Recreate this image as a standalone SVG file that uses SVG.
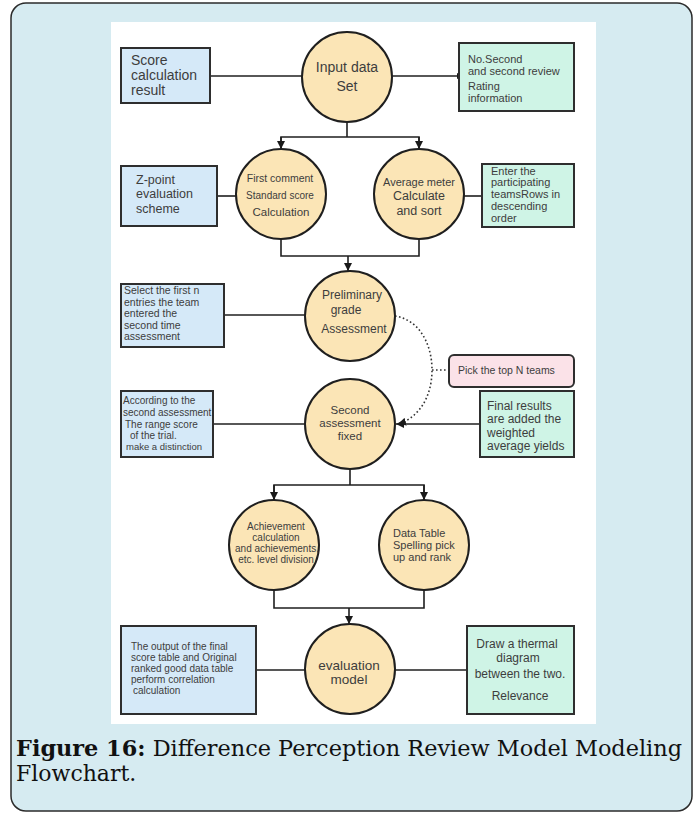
<svg xmlns="http://www.w3.org/2000/svg" width="698" height="813" viewBox="0 0 698 813">
  <defs>
    <marker id="arrow" viewBox="0 0 10 10" refX="10" refY="5" markerWidth="8" markerHeight="8" markerUnits="userSpaceOnUse" orient="auto">
      <path d="M0,0 L10,5 L0,10 z" fill="#1a1a1a"/>
    </marker>
    <marker id="arrow-sm" viewBox="0 0 10 10" refX="10" refY="5" markerWidth="6" markerHeight="6" markerUnits="userSpaceOnUse" orient="auto">
      <path d="M0,0 L10,5 L0,10 z" fill="#1a1a1a"/>
    </marker>
  </defs>
  <style>
    .frame { fill: #d6ebf1; stroke: #2b2b2b; stroke-width: 1.5; }
    .panel { fill: #ffffff; }
    .circle { fill: #fbe5b6; stroke: #1f1f1f; stroke-width: 2; }
    .blue { fill: #d5e9f8; stroke: #2e2e2e; stroke-width: 2; }
    .green { fill: #cff4e6; stroke: #2e2e2e; stroke-width: 2; }
    .pink { fill: #fbe2e8; stroke: #2e2e2e; stroke-width: 2; }
    .link { fill: none; stroke: #1f1f1f; stroke-width: 1.6; }
    .dotted { fill: none; stroke: #333; stroke-width: 1.6; stroke-dasharray: 1.6 2.4; }
    text { font-family: "Liberation Sans", Arial, sans-serif; fill: #3d3d3d; }
    .c { text-anchor: middle; }
    .caption { font-family: "DejaVu Serif", "Liberation Serif", serif; font-size: 22px; fill: #111; }
  </style>

  <!-- outer frame and white drawing panel -->
  <rect class="frame" x="11" y="3" width="681" height="808" rx="15" ry="15"/>
  <rect class="panel" x="111" y="22" width="485" height="702"/>

  <!-- connectors -->
  <g id="connectors">
    <line class="link" x1="210" y1="76" x2="302" y2="76"/>
    <line class="link" x1="392" y1="76" x2="463" y2="76" marker-end="url(#arrow-sm)"/>
    <polyline class="link" points="347,122 347,137"/>
    <polyline class="link" points="281,149 281,137 419,137 419,149"/>
    <line class="link" x1="281" y1="137" x2="281" y2="149" marker-end="url(#arrow)"/>
    <line class="link" x1="419" y1="137" x2="419" y2="149" marker-end="url(#arrow)"/>
    <line class="link" x1="217" y1="196" x2="236" y2="196"/>
    <line class="link" x1="464" y1="196" x2="482" y2="196"/>
    <polyline class="link" points="281,239 281,256 419,256 419,239"/>
    <line class="link" x1="348" y1="256" x2="348" y2="271" marker-end="url(#arrow)"/>
    <line class="link" x1="224" y1="315" x2="305" y2="315"/>
    <path class="dotted" d="M395,316 C420,320 432,345 432,370 C432,398 418,418 398,424" marker-end="url(#arrow)"/>
    <line class="dotted" x1="432" y1="370" x2="449" y2="370"/>
    <line class="link" x1="213" y1="424" x2="305" y2="424"/>
    <line class="link" x1="480" y1="424" x2="396" y2="424" marker-end="url(#arrow)"/>
    <polyline class="link" points="350,469 350,485"/>
    <polyline class="link" points="274,500 274,485 424,485 424,500"/>
    <line class="link" x1="274" y1="485" x2="274" y2="500" marker-end="url(#arrow)"/>
    <line class="link" x1="424" y1="485" x2="424" y2="500" marker-end="url(#arrow)"/>
    <polyline class="link" points="274,590 274,608 424,608 424,590"/>
    <line class="link" x1="349" y1="608" x2="349" y2="624" marker-end="url(#arrow)"/>
    <line class="link" x1="256" y1="670" x2="305" y2="670"/>
    <line class="link" x1="395" y1="670" x2="467" y2="670"/>
  </g>

  <g id="score-result">
    <rect class="blue" x="121" y="48" width="89" height="55"/>
    <text font-size="14"><tspan x="131" y="65">Score</tspan><tspan x="131" y="80">calculation</tspan><tspan x="131" y="95">result</tspan></text>
  </g>

  <g id="input-data">
    <circle class="circle" cx="347" cy="77" r="45"/>
    <text class="c" font-size="14"><tspan x="347" y="72">Input data</tspan><tspan x="347" y="91">Set</tspan></text>
  </g>

  <g id="rating-info">
    <rect class="green" x="459" y="43" width="115" height="68"/>
    <text font-size="11"><tspan x="468" y="63">No.Second</tspan><tspan x="468" y="75">and second review</tspan><tspan x="468" y="90">Rating</tspan><tspan x="468" y="102">information</tspan></text>
  </g>

  <g id="z-point">
    <rect class="blue" x="121" y="166" width="96" height="60"/>
    <text font-size="12.5"><tspan x="136" y="184">Z-point</tspan><tspan x="136" y="198">evaluation</tspan><tspan x="136" y="213">scheme</tspan></text>
  </g>

  <g id="standard-score">
    <circle class="circle" cx="281" cy="194" r="45"/>
    <text class="c"><tspan x="280" y="182" font-size="10.5">First comment</tspan><tspan x="280" y="199" font-size="10">Standard score</tspan><tspan x="281" y="216" font-size="11.5">Calculation</tspan></text>
  </g>

  <g id="average-meter">
    <circle class="circle" cx="419" cy="194" r="45"/>
    <text class="c"><tspan x="419" y="186" font-size="11">Average meter</tspan><tspan x="419" y="200" font-size="12.5">Calculate</tspan><tspan x="419" y="215" font-size="12.5">and sort</tspan></text>
  </g>

  <g id="descending-order">
    <rect class="green" x="482" y="164" width="92" height="63"/>
    <text font-size="11"><tspan x="491" y="175">Enter the</tspan><tspan x="491" y="186">participating</tspan><tspan x="491" y="198">teamsRows in</tspan><tspan x="491" y="210">descending</tspan><tspan x="491" y="222">order</tspan></text>
  </g>

  <g id="select-first-n">
    <rect class="blue" x="121" y="284" width="103" height="63"/>
    <text font-size="10.5"><tspan x="124" y="294">Select the first n</tspan><tspan x="124" y="306">entries the team</tspan><tspan x="124" y="317">entered the</tspan><tspan x="124" y="329">second time</tspan><tspan x="124" y="340">assessment</tspan></text>
  </g>

  <g id="preliminary">
    <circle class="circle" cx="350" cy="316" r="45"/>
    <text class="c" font-size="12"><tspan x="352" y="299">Preliminary</tspan><tspan x="346" y="314">grade</tspan><tspan x="354" y="333">Assessment</tspan></text>
  </g>

  <g id="top-n">
    <rect class="pink" x="449" y="355" width="125" height="32" rx="5" ry="5"/>
    <text x="458" y="374" font-size="10.5">Pick the top N teams</text>
  </g>

  <g id="range-score">
    <rect class="blue" x="121" y="391" width="92" height="66"/>
    <text font-size="10"><tspan x="123" y="404">According to the</tspan><tspan x="123" y="416">second assessment</tspan><tspan x="125" y="428">The range score</tspan><tspan x="130" y="439">of the trial.</tspan><tspan x="126" y="450" font-size="9.5">make a distinction</tspan></text>
  </g>

  <g id="second-assessment">
    <circle class="circle" cx="350" cy="424" r="45"/>
    <text class="c" font-size="11.5"><tspan x="350" y="414">Second</tspan><tspan x="350" y="427">assessment</tspan><tspan x="350" y="440">fixed</tspan></text>
  </g>

  <g id="final-results">
    <rect class="green" x="480" y="391" width="94" height="66"/>
    <text font-size="12"><tspan x="487" y="410">Final results</tspan><tspan x="487" y="423">are added the</tspan><tspan x="487" y="437">weighted</tspan><tspan x="487" y="450">average yields</tspan></text>
  </g>

  <g id="achievement">
    <circle class="circle" cx="274" cy="545" r="45"/>
    <text class="c" font-size="10"><tspan x="276" y="530">Achievement</tspan><tspan x="276" y="541">calculation</tspan><tspan x="277" y="552">and achievements,</tspan><tspan x="276" y="563">etc. level division</tspan></text>
  </g>

  <g id="data-table">
    <circle class="circle" cx="424" cy="545" r="45"/>
    <text font-size="11"><tspan x="393" y="537">Data Table</tspan><tspan x="393" y="549">Spelling pick</tspan><tspan x="393" y="561">up and rank</tspan></text>
  </g>

  <g id="final-output">
    <rect class="blue" x="121" y="626" width="135" height="88"/>
    <text font-size="10"><tspan x="131" y="650">The output of the final</tspan><tspan x="131" y="661">score table and Original</tspan><tspan x="131" y="672">ranked good data table</tspan><tspan x="131" y="683">perform correlation</tspan><tspan x="133" y="694">calculation</tspan></text>
  </g>

  <g id="evaluation-model">
    <circle class="circle" cx="350" cy="669" r="45"/>
    <text class="c" font-size="13.5"><tspan x="349" y="670">evaluation</tspan><tspan x="349" y="684">model</tspan></text>
  </g>

  <g id="thermal-diagram">
    <rect class="green" x="467" y="626" width="107" height="88"/>
    <text class="c" font-size="12"><tspan x="517" y="648">Draw a thermal</tspan><tspan x="518" y="662">diagram</tspan><tspan x="520" y="678">between the two.</tspan><tspan x="520" y="700">Relevance</tspan></text>
  </g>

  <!-- caption -->
  <text class="caption" x="16" y="756" textLength="666" lengthAdjust="spacingAndGlyphs"><tspan font-weight="bold">Figure 16:</tspan> Difference Perception Review Model Modeling</text>
  <text class="caption" x="16" y="781">Flowchart.</text>
</svg>
